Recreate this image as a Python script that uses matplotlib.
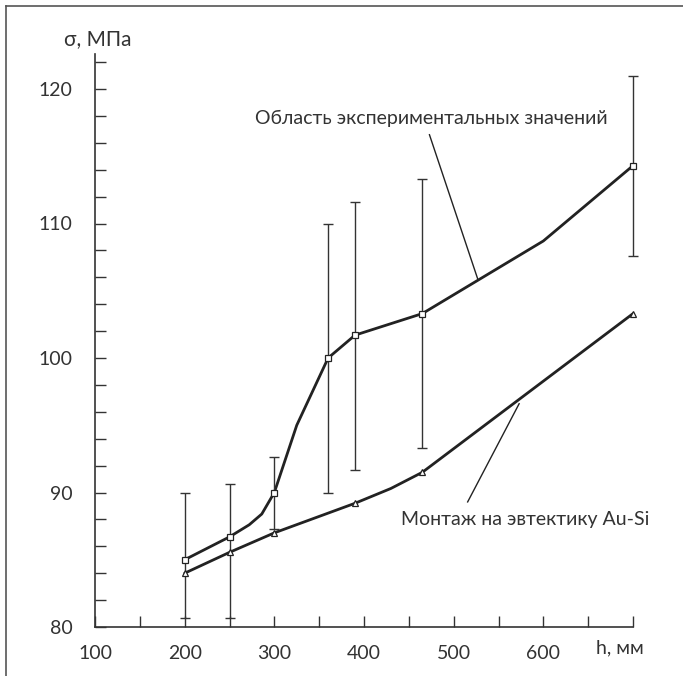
import matplotlib
matplotlib.use("Agg")
import matplotlib.pyplot as plt
from matplotlib.lines import Line2D

plt.rcParams['font.family'] = ['Lato', 'DejaVu Sans']

# Experimental region (upper curve) – measured points with error bars
h_exp = [200, 250, 300, 360, 390, 465, 700]
s_exp = [85.0, 86.7, 90.0, 100.0, 101.7, 103.3, 114.3]
err_top = [90.0, 90.65, 92.66, 110.0, 111.6, 113.3, 121.0]
err_bot = [80.7, 80.7, 87.3, 90.0, 91.7, 93.3, 107.6]
# smoothed curve path through the experimental region
h_exp_curve = [200, 250, 272, 286, 300, 325, 360, 390, 465, 600, 700]
s_exp_curve = [85.0, 86.7, 87.6, 88.4, 90.0, 95.0, 100.0, 101.7, 103.3, 108.7, 114.3]

# Au-Si eutectic mounting (lower curve)
h_eut = [200, 250, 300, 390, 465, 700]
s_eut = [84.0, 85.55, 87.0, 89.2, 91.5, 103.3]
h_eut_curve = [200, 250, 300, 390, 430, 465, 700]
s_eut_curve = [84.0, 85.55, 87.0, 89.2, 90.3, 91.5, 103.3]

x_ticks = [100, 150, 200, 250, 300, 350, 400, 450, 500, 550, 600, 650, 700]
x_labels = ['100', '', '200', '', '300', '', '400', '', '500', '', '600', '', '']
y_ticks = list(range(80, 123, 2))
y_labels = [str(v) if v % 10 == 0 else '' for v in y_ticks]

W, H = 683, 676
fig = plt.figure(figsize=(W / 100, H / 100), dpi=100)
ax = fig.add_axes([95 / W, 1 - 627 / H, (633 - 95) / W, (627 - 54) / H])

dark = '#222222'
ax.plot(h_exp_curve, s_exp_curve, color=dark, lw=2.0, solid_capstyle='round', clip_on=False)
ax.plot(h_eut_curve, s_eut_curve, color=dark, lw=2.0, solid_capstyle='round', clip_on=False)

yerr = [[s - b for s, b in zip(s_exp, err_bot)], [t - s for s, t in zip(s_exp, err_top)]]
eb = ax.errorbar(h_exp, s_exp, yerr=yerr, fmt='none', ecolor='#333333', elinewidth=1.0,
                 capsize=3.5, capthick=1.0)
for art in eb.lines[1] + eb.lines[2]:
    art.set_clip_on(False)
ax.plot(h_exp, s_exp, ls='none', marker='s', ms=4.2, mfc='white', mec=dark, mew=0.9,
        clip_on=False)
ax.plot(h_eut, s_eut, ls='none', marker='^', ms=4.2, mfc='white', mec=dark, mew=0.9,
        clip_on=False)

ax.set_xlim(100, 700)
ax.set_ylim(80, 80 + (627 - 54) / 13.45)
ax.spines['top'].set_visible(False)
ax.spines['right'].set_visible(False)
for sp in ('left', 'bottom'):
    ax.spines[sp].set_color('#333333')
    ax.spines[sp].set_linewidth(1.2)
ax.set_xticks(x_ticks)
ax.set_xticklabels(x_labels)
ax.set_yticks(y_ticks)
ax.set_yticklabels(y_labels)
ax.tick_params(axis='both', direction='in', length=8, width=1.0, color='#333333',
               labelsize=14, labelcolor='#333333')
ax.tick_params(axis='x', pad=13)
ax.tick_params(axis='y', pad=16)

# axis titles
fig.text(64 / W, 1 - 39 / H, 'σ, МПа', ha='left', va='center', fontsize=15, color='#333333')
fig.text(620 / W, 1 - 648 / H, 'h, мм', ha='center', va='center', fontsize=14, color='#333333')

# annotations
ax.text(475.6, 117.8, 'Область экспериментальных значений', ha='center', va='center',
        fontsize=14, color='#333333')
ax.plot([473, 526.7], [116.6, 105.9], color=dark, lw=1.0)
ax.text(580, 88.0, 'Монтаж на эвтектику Au-Si', ha='center', va='center',
        fontsize=14, color='#333333')
ax.plot([515.6, 573], [89.3, 96.6], color=dark, lw=1.0)

# frame lines (top and left)
fig.add_artist(Line2D([6 / W, 6 / W], [0, 1 - 6 / H], transform=fig.transFigure,
                      color='#555555', lw=1.2))
fig.add_artist(Line2D([6 / W, 1], [1 - 6 / H, 1 - 6 / H], transform=fig.transFigure,
                      color='#555555', lw=1.2))

fig.savefig('out.png', dpi=100)
